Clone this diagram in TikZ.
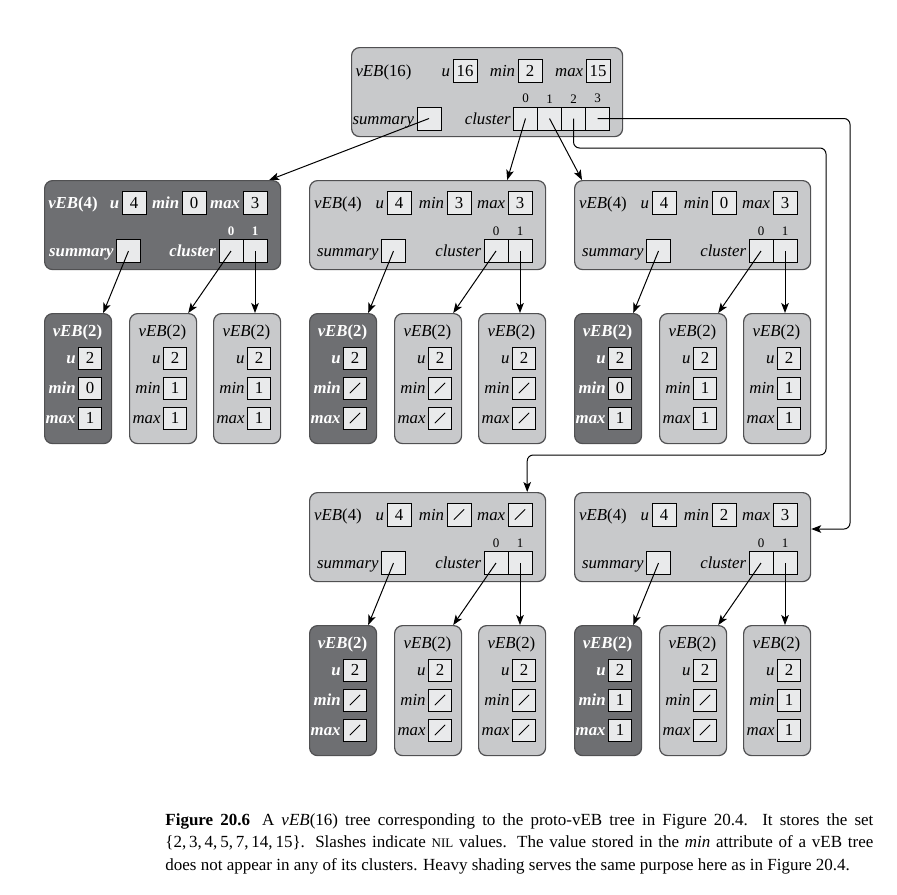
\documentclass[tikz,border=0pt]{standalone}
\usepackage{fontspec}
\setmainfont{Liberation Serif}
\usetikzlibrary{arrows.meta,positioning}

\definecolor{lightfill}{HTML}{C8C9CB}
\definecolor{darkfill}{HTML}{6E6F72}
\definecolor{fieldfill}{HTML}{E9EAEB}
\definecolor{boxline}{HTML}{505052}

\tikzset{
  lightbox/.style={draw=boxline, fill=lightfill, line width=0.6pt, rounded corners=4pt, inner sep=0pt},
  darkbox/.style={lightbox, fill=darkfill},
  lightlbl/.style={inner sep=1pt, text height=7pt, text depth=1.3pt},
  darklbl/.style={lightlbl, text=white, font=\fontsize{8.4}{10}\selectfont\bfseries},
  field/.style={draw=black, fill=fieldfill, line width=0.5pt, minimum width=12pt, minimum height=11.5pt,
    inner sep=0pt, text height=7pt, text depth=1.3pt},
  smallfield/.style={field, minimum width=11.5pt, minimum height=11pt},
  nil/.style={path picture={\draw[line width=0.4pt]
    ([shift={(-2.6pt,-2.6pt)}]path picture bounding box.center) --
    ([shift={(2.6pt,2.6pt)}]path picture bounding box.center);}},
  lightidx/.style={inner sep=0.5pt, font=\fontsize{6.5}{7}\selectfont},
  darkidx/.style={lightidx, text=white, font=\fontsize{6.5}{7}\selectfont\bfseries},
  ptr/.style={-{Stealth[length=5pt,width=3.8pt,inset=1.2pt]}, line width=0.5pt},
}

% a value field, a slash for nil
\newcommand{\valfield}[4]{%
  \def\fieldval{#4}\def\vebnil{/}%
  \ifx\fieldval\vebnil
    \node[#1, nil] (#2) at (#3) {};
  \else
    \node[#1] (#2) at (#3) {#4};
  \fi}

% vEB(4): name, x, y, shade, u, min, max
\newcommand{\vebfour}[7]{%
  \node[#4box, minimum width=118pt, minimum height=44.5pt, anchor=north west] (#1) at (#2,#3) {};
  \begin{scope}[shift={(#2,#3)}]
    \node[#4lbl] (#1-t) at (29,22.5) {\textit{vEB}(4)};
    \valfield{field}{#1-u}{90,22.5}{#5}
    \valfield{field}{#1-min}{150,22.5}{#6}
    \valfield{field}{#1-max}{211,22.5}{#7}
    \node[field] (#1-sum) at (84.5,71) {};
    \node[field] (#1-c0) at (187,71) {};
    \node[field] (#1-c1) at (211,71) {};
    \node[#4lbl, left=0pt of #1-u] (#1-ul) {\textit{u}};
    \node[#4lbl, left=0pt of #1-min] (#1-minl) {\textit{min}};
    \node[#4lbl, left=0pt of #1-max] (#1-maxl) {\textit{max}};
    \node[#4lbl, left=0pt of #1-sum] (#1-suml) {\textit{summary}};
    \node[#4lbl, left=0pt of #1-c0] (#1-cl) {\textit{cluster}};
    \node[#4idx, above=1pt of #1-c0] (#1-i0) {0};
    \node[#4idx, above=1pt of #1-c1] (#1-i1) {1};
  \end{scope}}

% vEB(2): name, x, y, shade, u, min, max
\newcommand{\vebtwo}[7]{%
  \node[#4box, minimum width=33.5pt, minimum height=65pt, anchor=north west] (#1) at (#2,#3) {};
  \begin{scope}[shift={(#2,#3)}]
    \node[#4lbl] (#1-t) at (33.5,18) {\textit{vEB}(2)};
    \valfield{smallfield}{#1-u}{46,45}{#5}
    \valfield{smallfield}{#1-min}{46,75}{#6}
    \valfield{smallfield}{#1-max}{46,105}{#7}
    \node[#4lbl, left=0pt of #1-u] (#1-ul) {\textit{u}};
    \node[#4lbl, left=0pt of #1-min] (#1-minl) {\textit{min}};
    \node[#4lbl, left=0pt of #1-max] (#1-maxl) {\textit{max}};
  \end{scope}}

\begin{document}
\begin{tikzpicture}[x=0.5pt, y=-0.5pt, font=\fontsize{8.4}{10}\selectfont]
\useasboundingbox (0,0) rectangle (897,894);

% vEB(16)
\node[lightbox, minimum width=135.5pt, minimum height=44.5pt, anchor=north west] (T) at (351,47) {};
\begin{scope}[shift={(351,47)}]
  \node[lightlbl] (T-t) at (32.5,23.5) {\textit{vEB}(16)};
  \node[field] (T-u) at (114,23.5) {16};
  \node[field] (T-min) at (179,23.5) {2};
  \node[field] (T-max) at (247,23.5) {15};
  \node[field] (T-sum) at (78,71.5) {};
  \foreach \i in {0,...,3} {
    \node[field] (T-c\i) at ({174.5+24*\i},71.5) {};
    \node[lightidx, above=1pt of T-c\i] (T-i\i) {\i};
  }
  \node[lightlbl, left=0pt of T-u] (T-ul) {\textit{u}};
  \node[lightlbl, left=0pt of T-min] (T-minl) {\textit{min}};
  \node[lightlbl, left=0pt of T-max] (T-maxl) {\textit{max}};
  \node[lightlbl, left=0pt of T-sum] (T-suml) {\textit{summary}};
  \node[lightlbl, left=0pt of T-c0] (T-cl) {\textit{cluster}};
\end{scope}

% vEB(4) level
\vebfour{A}{44}{180}{dark}{4}{0}{3}
\vebfour{B}{309}{180}{light}{4}{3}{3}
\vebfour{C}{574}{180}{light}{4}{0}{3}
\vebfour{D}{309}{492}{light}{4}{/}{/}
\vebfour{E}{574}{492}{light}{4}{2}{3}

% vEB(2) level
\vebtwo{A1}{44}{313}{dark}{2}{0}{1}
\vebtwo{A2}{129}{313}{light}{2}{1}{1}
\vebtwo{A3}{213}{313}{light}{2}{1}{1}
\vebtwo{B1}{309}{313}{dark}{2}{/}{/}
\vebtwo{B2}{394}{313}{light}{2}{/}{/}
\vebtwo{B3}{478}{313}{light}{2}{/}{/}
\vebtwo{C1}{574}{313}{dark}{2}{0}{1}
\vebtwo{C2}{659}{313}{light}{2}{1}{1}
\vebtwo{C3}{743}{313}{light}{2}{1}{1}
\vebtwo{D1}{309}{625}{dark}{2}{/}{/}
\vebtwo{D2}{394}{625}{light}{2}{/}{/}
\vebtwo{D3}{478}{625}{light}{2}{/}{/}
\vebtwo{E1}{574}{625}{dark}{2}{1}{1}
\vebtwo{E2}{659}{625}{light}{2}{/}{/}
\vebtwo{E3}{743}{625}{light}{2}{1}{1}

% pointers out of vEB(16)
\coordinate (bendA) at (826,148);
\coordinate (bendB) at (826,455);
\coordinate (bendC) at (850,529);
\draw[ptr] (T-sum.center) -- ([xshift=-6pt]A.north east);
\draw[ptr] (T-c0.center) -- ([xshift=-19.5pt]B.north east);
\draw[ptr] (T-c1.center) -- ([xshift=4pt]C.north west);
\draw[ptr, rounded corners=3pt] (T-c2.center) |- (bendA) -- (bendB) -| ([xshift=-9.5pt]D.north east);
\draw[ptr, rounded corners=3pt] (T-c3.center) -| (bendC) -- (bendC -| E.east);

% pointers out of the vEB(4) trees
\foreach \p in {A,B,C,D,E} {
  \draw[ptr] (\p-sum.center) -- ([xshift=-4.5pt]\p1.north east);
  \draw[ptr] (\p-c0.center) -- ([xshift=-4.5pt]\p2.north east);
  \draw[ptr] (\p-c1.center) -- (\p-c1.center |- \p3.north);
}

\node[anchor=north west, text width=354pt, align=justify, inner sep=0pt,
  font=\fontsize{8.5}{11.25}\selectfont] (caption) at (165,813)
  {\textbf{Figure 20.6}\hspace{0.7em}A \textit{vEB}(16) tree corresponding to the proto-vEB tree in Figure 20.4.  It stores the set\linebreak
  \{2,\,3,\,4,\,5,\,7,\,14,\,15\}. Slashes indicate {\fontsize{6.5}{8}\selectfont NIL} values. The value stored in the \textit{min} attribute of a vEB tree\linebreak
  does not appear in any of its clusters. Heavy shading serves the same purpose here as in Figure 20.4.};
\end{tikzpicture}
\end{document}
